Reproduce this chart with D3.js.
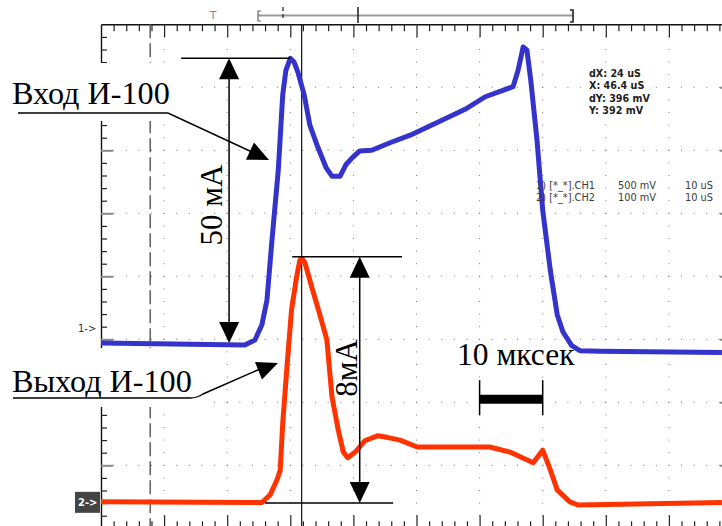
<!DOCTYPE html>
<html>
<head>
<meta charset="utf-8">
<script src="https://cdn.jsdelivr.net/npm/d3@7/dist/d3.min.js"></script>
<style>
  html, body { margin: 0; padding: 0; background: #fff; }
  svg { display: block; }
</style>
</head>
<body>
<div id="chart"></div>
<script>
// time in microseconds (10 uS per division), level in screen divisions above the bottom edge
const CH1_TIME = [0, 22.8, 24.4, 25.5, 26.3, 27.1, 28.1, 28.8, 29.3, 30.0, 30.6, 31.2, 32.2, 33.1, 34.4,
  35.7, 36.6, 37.9, 38.8, 39.8, 41.0, 42.9, 45.8, 49.0, 53.7, 57.7, 60.9, 65.3, 66.1, 66.9, 67.5,
  68.1, 69.1, 70.0, 71.2, 72.3, 73.2, 74.6, 75.9, 79.1, 98.4];
const CH1_LEVEL = [2.94, 2.91, 2.99, 3.23, 3.62, 4.58, 5.69, 6.88, 7.27, 7.46, 7.40, 7.24, 6.88, 6.40, 6.04,
  5.72, 5.59, 5.59, 5.77, 5.88, 5.99, 6.00, 6.12, 6.24, 6.46, 6.65, 6.85, 7.01, 7.27, 7.64, 7.59,
  7.12, 6.16, 5.05, 4.10, 3.39, 3.12, 2.90, 2.82, 2.81, 2.79];

const CH2_TIME = [0, 23.6, 25.5, 26.8, 27.9, 28.4, 28.8, 29.5, 30.2, 31.0, 31.5, 31.8, 32.3, 33.4, 34.6,
  35.8, 36.6, 37.6, 38.4, 39.1, 40.3, 41.8, 43.9, 45.5, 47.4, 50.1, 61.6, 64.8, 68.5, 70.0, 71.2,
  72.3, 74.3, 75.6, 87.0, 98.4];
const CH2_LEVEL = [0.42, 0.41, 0.41, 0.53, 0.77, 0.92, 1.67, 2.60, 3.47, 3.99, 4.25, 4.29, 4.22, 3.83, 3.42,
  2.99, 2.09, 1.56, 1.21, 1.12, 1.21, 1.39, 1.47, 1.44, 1.40, 1.29, 1.29, 1.21, 1.04, 1.24, 0.93,
  0.61, 0.42, 0.37, 0.39, 0.41];

const READOUT = ["dX: 24 uS", "X: 46.4 uS", "dY: 396 mV", "Y: 392 mV"];
const CHANNEL_NAMES = ["1) [*_*].CH1", "2) [*_*].CH2"];
const CHANNEL_VOLTS = ["500 mV", "100 mV"];
const CHANNEL_TIMEBASE = ["10 uS", "10 uS"];

const TRIGGER_TIME = 7.8;
const CURSOR_TIME = 31.8;
const CH1_MARKER = 3.18;
const CH2_MARKER = 0.42;
// dimension arrows: [time, from level, to level]
const DIM_IN = [20.3, 2.94, 7.46];
const DIM_OUT = [41.0, 0.40, 4.31];
const SCALE_BAR = [60, 70, 2.05];

const width = 722;
const height = 526;

const x = d3.scaleLinear().domain([0, 100]).range([101, 732]);
const y = d3.scaleLinear().domain([0, 8]).range([528.3, 24.3]);

const svg = d3.select("#chart").append("svg")
  .attr("width", width)
  .attr("height", height)
  .attr("viewBox", `0 0 ${width} ${height}`);

svg.append("rect").attr("width", width).attr("height", height).attr("fill", "#fff");

// dotted grid
const grid = svg.append("g").attr("fill", "#777");
d3.range(1, 8).forEach((row) => {
  d3.range(2, 100, 2).forEach((t) => {
    grid.append("rect").attr("x", x(t) - 0.5).attr("y", y(row) - 0.5).attr("width", 1).attr("height", 1);
  });
});
d3.range(10, 100, 10).forEach((col) => {
  d3.range(0.2, 8, 0.2).forEach((v) => {
    grid.append("rect").attr("x", x(col) - 0.5).attr("y", y(v) - 0.5).attr("width", 1).attr("height", 1);
  });
});

// frame with minor / major ticks
const minorT = d3.range(2, 100, 2).filter((t) => t % 10 !== 0);
const majorT = d3.range(10, 100, 10);
const minorV = d3.range(0.2, 8, 0.2).filter((v) => Math.abs(v - Math.round(v)) > 0.01);
const majorV = d3.range(1, 8);

function frameAxis(axis, translate) {
  const g = svg.append("g").attr("transform", translate).call(axis);
  g.selectAll("text").remove();
  g.select(".domain").attr("stroke", "#111").attr("stroke-width", 1.4);
  g.selectAll(".tick line").attr("stroke", "#222").attr("stroke-width", 1.2);
  return g;
}

frameAxis(d3.axisBottom(x).tickValues(minorT).tickSize(7).tickSizeOuter(0), `translate(0,${y(8)})`);
frameAxis(d3.axisBottom(x).tickValues(majorT).tickSize(13).tickSizeOuter(0), `translate(0,${y(8)})`)
  .select(".domain").remove();
frameAxis(d3.axisTop(x).tickValues(minorT).tickSize(7).tickSizeOuter(0), `translate(0,${y(0)})`);
frameAxis(d3.axisTop(x).tickValues(majorT).tickSize(13).tickSizeOuter(0), `translate(0,${y(0)})`)
  .select(".domain").remove();
frameAxis(d3.axisRight(y).tickValues(minorV).tickSize(6).tickSizeOuter(0), `translate(${x(0)},0)`);
frameAxis(d3.axisRight(y).tickValues(majorV).tickSize(12).tickSizeOuter(0), `translate(${x(0)},0)`)
  .call((g) => g.select(".domain").remove())
  .selectAll(".tick line").attr("stroke", "#888").attr("stroke-width", 2);
frameAxis(d3.axisLeft(y).tickValues(minorV).tickSize(6).tickSizeOuter(0), `translate(${x(100)},0)`);
frameAxis(d3.axisLeft(y).tickValues(majorV).tickSize(12).tickSizeOuter(0), `translate(${x(100)},0)`)
  .call((g) => g.select(".domain").remove())
  .selectAll(".tick line").attr("stroke", "#888").attr("stroke-width", 2);

// trigger (dashed) and cursor lines
svg.append("line")
  .attr("x1", x(TRIGGER_TIME)).attr("x2", x(TRIGGER_TIME))
  .attr("y1", y(8)).attr("y2", y(0))
  .attr("stroke", "#666").attr("stroke-width", 1.6).attr("stroke-dasharray", "14,5");

svg.append("line")
  .attr("x1", x(CURSOR_TIME)).attr("x2", x(CURSOR_TIME))
  .attr("y1", y(8)).attr("y2", y(0))
  .attr("stroke", "#111").attr("stroke-width", 1.2);

// top status bar
svg.append("text").attr("x", 213).attr("y", 19).attr("text-anchor", "middle")
  .attr("font-family", "DejaVu Sans").attr("font-size", 11).attr("fill", "#888").text("T");
svg.append("line").attr("x1", 258).attr("x2", 573).attr("y1", 15.5).attr("y2", 15.5)
  .attr("stroke", "#999").attr("stroke-width", 2);
svg.append("path").attr("d", "M261,11 H258 V21 H261").attr("fill", "none").attr("stroke", "#666").attr("stroke-width", 1.2);
svg.append("path").attr("d", "M570,10 H573 V22 H570").attr("fill", "none").attr("stroke", "#222").attr("stroke-width", 1.6);
svg.append("line").attr("x1", 283).attr("x2", 283).attr("y1", 7).attr("y2", 21)
  .attr("stroke", "#222").attr("stroke-width", 1.2).attr("stroke-dasharray", "4,3");
svg.append("line").attr("x1", 358).attr("x2", 358).attr("y1", 7).attr("y2", 23)
  .attr("stroke", "#111").attr("stroke-width", 1.4);

// white boxes behind the big labels
svg.append("rect").attr("x", 0).attr("y", 63).attr("width", 197).attr("height", 58).attr("fill", "#fff");
svg.append("rect").attr("x", 0).attr("y", 348).attr("width", 205).attr("height", 59).attr("fill", "#fff");

// channel markers
svg.append("text").attr("x", 78).attr("y", y(CH1_MARKER) + 4)
  .attr("font-family", "DejaVu Sans").attr("font-size", 10).attr("fill", "#333").text("1->");
svg.append("rect").attr("x", 75).attr("y", y(CH2_MARKER) - 10).attr("width", 25).attr("height", 21).attr("fill", "#444");
svg.append("text").attr("x", 78).attr("y", y(CH2_MARKER) + 4)
  .attr("font-family", "DejaVu Sans").attr("font-size", 10).attr("font-weight", "bold").attr("fill", "#fff").text("2->");

// traces
const line = d3.line().x((d) => x(d[0])).y((d) => y(d[1]));
svg.append("path")
  .datum(CH1_TIME.map((t, i) => [t, CH1_LEVEL[i]]))
  .attr("d", line).attr("fill", "none")
  .attr("stroke", "#3434cc").attr("stroke-width", 5).attr("stroke-linejoin", "round");
svg.append("path")
  .datum(CH2_TIME.map((t, i) => [t, CH2_LEVEL[i]]))
  .attr("d", line).attr("fill", "none")
  .attr("stroke", "#ff3300").attr("stroke-width", 5).attr("stroke-linejoin", "round");

// readouts
const readout = svg.append("g").attr("font-family", "DejaVu Sans").attr("font-size", 9.6)
  .attr("font-weight", "bold").attr("fill", "#222");
READOUT.forEach((txt, i) => {
  readout.append("text").attr("x", 589).attr("y", 77 + i * 12.4).text(txt);
});
const chInfo = svg.append("g").attr("font-family", "DejaVu Sans").attr("font-size", 9.8).attr("fill", "#3a3a3a");
CHANNEL_NAMES.forEach((name, i) => {
  const yy = 189 + i * 12;
  chInfo.append("text").attr("x", 536).attr("y", yy).text(name);
  chInfo.append("text").attr("x", 618).attr("y", yy).text(CHANNEL_VOLTS[i]);
  chInfo.append("text").attr("x", 685).attr("y", yy).text(CHANNEL_TIMEBASE[i]);
});

// annotations
const ann = svg.append("g").attr("stroke", "#000").attr("stroke-width", 1.5).attr("fill", "none");

function arrowHead(tipX, tipY, fromX, fromY, len = 21, half = 10) {
  const dx = tipX - fromX;
  const dy = tipY - fromY;
  const n = Math.hypot(dx, dy);
  const ux = dx / n, uy = dy / n;
  const bx = tipX - ux * len, by = tipY - uy * len;
  svg.append("path")
    .attr("d", `M${tipX},${tipY} L${bx - uy * half},${by + ux * half} L${bx + uy * half},${by - ux * half} Z`)
    .attr("fill", "#000");
}

// 50 mA dimension
const inX = x(DIM_IN[0]);
ann.append("line").attr("x1", inX).attr("x2", inX).attr("y1", y(DIM_IN[2]) + 10).attr("y2", y(DIM_IN[1]) - 10);
ann.append("line").attr("x1", x(12.7)).attr("x2", x(30.0)).attr("y1", y(DIM_IN[2])).attr("y2", y(DIM_IN[2]));
arrowHead(inX, y(DIM_IN[2]), inX, y(DIM_IN[1]));
arrowHead(inX, y(DIM_IN[1]), inX, y(DIM_IN[2]));

// 8 mA dimension
const outX = x(DIM_OUT[0]);
ann.append("line").attr("x1", outX).attr("x2", outX).attr("y1", y(DIM_OUT[2]) + 10).attr("y2", y(DIM_OUT[1]) - 10);
ann.append("line").attr("x1", x(30.3)).attr("x2", x(47.7)).attr("y1", y(DIM_OUT[2])).attr("y2", y(DIM_OUT[2]));
ann.append("line").attr("x1", x(26.0)).attr("x2", x(46.3)).attr("y1", y(DIM_OUT[1])).attr("y2", y(DIM_OUT[1]));
arrowHead(outX, y(DIM_OUT[2]), outX, y(DIM_OUT[1]));
arrowHead(outX, y(DIM_OUT[1]), outX, y(DIM_OUT[2]));

// 10 us scale bar
const sbY = y(SCALE_BAR[2]);
svg.append("line").attr("x1", x(SCALE_BAR[0])).attr("x2", x(SCALE_BAR[1]))
  .attr("y1", sbY).attr("y2", sbY).attr("stroke", "#000").attr("stroke-width", 9);
[SCALE_BAR[0], SCALE_BAR[1]].forEach((t) => {
  ann.append("line").attr("x1", x(t)).attr("x2", x(t)).attr("y1", sbY - 19).attr("y2", sbY + 16);
});

// pointer lines
ann.append("path").attr("d", "M18,113 L168,113 L252,152");
arrowHead(269, 160, 168, 113, 21, 9.5);
ann.append("path").attr("d", "M13,398 L190,398 Q197,398 203,394 L260,369");
arrowHead(278, 363, 200, 394, 21, 9.5);

// big labels
const serif = "'Liberation Serif', 'Times New Roman', serif";
svg.append("text").attr("x", 12).attr("y", 104).attr("font-family", serif).attr("font-size", 32.2).text("Вход И-100");
svg.append("text").attr("x", 12).attr("y", 392).attr("font-family", serif).attr("font-size", 32.2).text("Выход И-100");
svg.append("text").attr("x", 457).attr("y", 365).attr("font-family", serif).attr("font-size", 31.5).text("10 мксек");
svg.append("text").attr("transform", `translate(${inX - 7},205) rotate(-90)`).attr("text-anchor", "middle")
  .attr("font-family", serif).attr("font-size", 31).text("50 мА");
svg.append("text").attr("transform", `translate(${outX - 3},368) rotate(-90)`).attr("text-anchor", "middle")
  .attr("font-family", serif).attr("font-size", 31).text("8мА");
</script>
</body>
</html>
